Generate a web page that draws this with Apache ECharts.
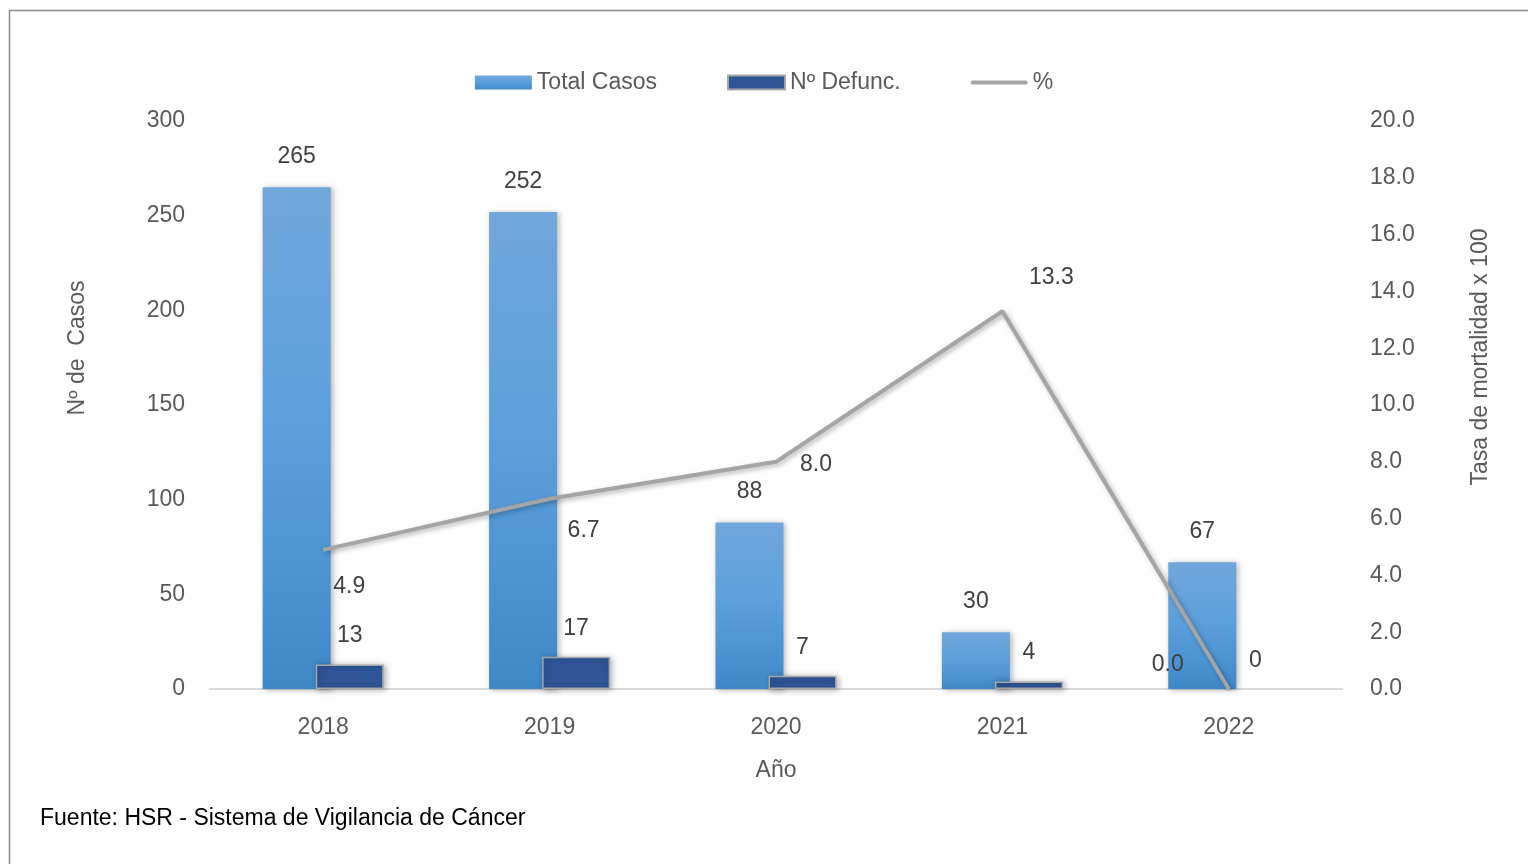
<!DOCTYPE html>
<html>
<head>
<meta charset="utf-8">
<style>
  html, body { margin: 0; padding: 0; background: #ffffff; }
  #chart { width: 1528px; height: 864px; }
</style>
<script src="https://cdn.jsdelivr.net/npm/echarts@6/dist/echarts.min.js"></script>
</head>
<body>
<div id="chart"></div>
<script>
// Casos y defunciones por año, con tasa de mortalidad (%)
const years = ['2018', '2019', '2020', '2021', '2022'];
const totalCasos = [265, 252, 88, 30, 67];
const defunciones = [13, 17, 7, 4, 0];
const tasa = [4.9, 6.7, 8.0, 13.3, 0.0];
const leftTicks = { min: 0, max: 300, interval: 50 };
const rightTicks = { min: 0, max: 20, interval: 2 };

// label offsets for the rate series, per point
const tasaLabelOffsets = [[26, 37], [34, 32], [40, 3], [49, -34], [-61, -24]];

const FONT = '"Liberation Sans", Arial, sans-serif';
const axisGrey = '#595959';
const labelGrey = '#404040';

const chart = echarts.init(document.getElementById('chart'));

chart.setOption({
  backgroundColor: '#ffffff',
  animation: false,
  textStyle: { fontFamily: FONT },
  graphic: [
    {
      type: 'rect', left: 7, top: 8,
      shape: { width: 1540, height: 880 },
      style: { fill: 'none', stroke: '#8c8c8c', lineWidth: 1.5 },
      silent: true
    },
    {
      type: 'text', left: 40, top: 807,
      style: { text: 'Fuente: HSR - Sistema de Vigilancia de Cáncer', fill: '#000000', font: '23px ' + FONT }
    },
    {
      type: 'text', x: 78, y: 348, rotation: Math.PI / 2,
      style: { text: 'Nº de  Casos', fill: axisGrey, font: '23px ' + FONT, align: 'center', verticalAlign: 'middle' }
    },
    {
      type: 'text', x: 1481, y: 357, rotation: Math.PI / 2,
      style: { text: 'Tasa de mortalidad x 100', fill: axisGrey, font: '23px ' + FONT, align: 'center', verticalAlign: 'middle' }
    }
  ],
  legend: {
    top: 66,
    left: 'center',
    itemWidth: 57,
    itemHeight: 14,
    itemGap: 70,
    textStyle: { color: axisGrey, fontSize: 23, fontFamily: FONT },
    data: [
      { name: 'Total Casos', icon: 'rect' },
      { name: 'Nº Defunc.', icon: 'rect' },
      { name: '%', icon: 'path://M0,0 M57,14 M2,5 L55,5 A2,2 0 0 1 55,9 L2,9 A2,2 0 0 1 2,5 Z' }
    ]
  },
  grid: { left: 210, right: 186, top: 121, bottom: 175 },
  xAxis: {
    type: 'category',
    data: years,
    boundaryGap: true,
    name: 'Año',
    nameLocation: 'middle',
    nameGap: 70,
    nameTextStyle: { color: axisGrey, fontSize: 23, fontFamily: FONT },
    axisLine: { lineStyle: { color: '#d9d9d9', width: 2 } },
    axisTick: { show: false },
    axisLabel: { color: axisGrey, fontSize: 23, margin: 27, fontFamily: FONT }
  },
  yAxis: [
    {
      type: 'value',
      min: leftTicks.min, max: leftTicks.max, interval: leftTicks.interval,
      splitLine: { show: false },
      axisLine: { show: false },
      axisTick: { show: false },
      axisLabel: { color: axisGrey, fontSize: 23, margin: 25, fontFamily: FONT }
    },
    {
      type: 'value',
      min: rightTicks.min, max: rightTicks.max, interval: rightTicks.interval,
      splitLine: { show: false },
      axisLine: { show: false },
      axisTick: { show: false },
      axisLabel: {
        color: axisGrey, fontSize: 23, margin: 28, fontFamily: FONT,
        formatter: v => v.toFixed(1)
      }
    }
  ],
  series: [
    {
      name: 'Total Casos',
      type: 'bar',
      data: totalCasos,
      barWidth: 68,
      barGap: '-22%',
      itemStyle: {
        color: new echarts.graphic.LinearGradient(0, 0, 0, 1, [
          { offset: 0, color: '#71a7db' },
          { offset: 0.5, color: '#5a9fdc' },
          { offset: 1, color: '#3f88c8' }
        ]),
        shadowBlur: 6, shadowColor: 'rgba(0,0,0,0.3)', shadowOffsetX: 2, shadowOffsetY: 1
      },
      label: {
        show: true, position: 'top', distance: 19,
        color: labelGrey, fontSize: 23, fontFamily: FONT
      },
      z: 2
    },
    {
      name: 'Nº Defunc.',
      type: 'bar',
      data: defunciones.map(v => v === 0
        ? { value: v, itemStyle: { borderWidth: 0, shadowBlur: 0 } }
        : v),
      barWidth: 68,
      itemStyle: {
        color: '#2e5597',
        borderColor: '#a6a6a6',
        borderWidth: 1.5,
        shadowBlur: 6, shadowColor: 'rgba(0,0,0,0.3)', shadowOffsetX: 2, shadowOffsetY: 1
      },
      label: {
        show: true, position: 'top', distance: 17,
        color: labelGrey, fontSize: 23, fontFamily: FONT
      },
      z: 3
    },
    {
      name: '%',
      type: 'line',
      yAxisIndex: 1,
      data: tasa.map((v, i) => ({
        value: v,
        label: { offset: tasaLabelOffsets[i] }
      })),
      symbol: 'circle',
      symbolSize: 1,
      showSymbol: true,
      lineStyle: {
        color: '#a5a5a5', width: 4,
        shadowBlur: 5, shadowColor: 'rgba(0,0,0,0.3)', shadowOffsetX: 2, shadowOffsetY: 2
      },
      itemStyle: { color: '#a5a5a5', opacity: 1 },
      label: {
        show: true, position: 'inside',
        color: labelGrey, fontSize: 23, fontFamily: FONT,
        formatter: p => p.value.toFixed(1)
      },
      z: 5
    }
  ]
});
</script>
</body>
</html>
